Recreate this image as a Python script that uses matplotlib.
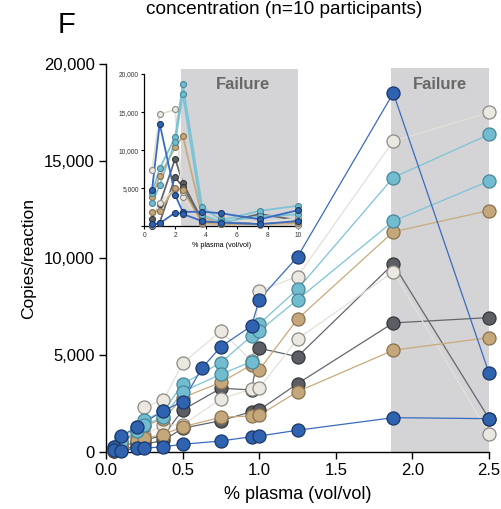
import matplotlib.pyplot as plt
from matplotlib.ticker import FuncFormatter
from matplotlib.patches import Rectangle

plt.rcParams['font.family'] = ['Liberation Sans', 'DejaVu Sans']

# main panel: % plasma 0-2.5
x_std = [0.05, 0.1, 0.2, 0.25, 0.375, 0.5, 0.75, 0.95, 1.0, 1.25, 1.875, 2.5]
x_db_hi = [0.05, 0.1, 0.2, 0.375, 0.5, 0.625, 0.75, 0.95, 1.0, 1.25, 1.875, 2.5]

y_db_hi = [273, 841, 1274, 2131, 2596, 4319, 5434, 6502, 7859, 10062, 18509, 4061]
y_db_lo = [100, 60, 191, 191, 273, 397, 568, 790, 826, 1120, 1770, 1718]
y_lb_hi = [250, 700, 1300, 1651, 2100, 3509, 4608, 5986, 6605, 8395, 14154, 16373]
y_lb_lo = [180, 500, 1100, 1400, 1800, 3111, 4009, 4660, 6244, 7859, 11904, 13968]
y_tn_hi = [150, 400, 1047, 1342, 1703, 2800, 3596, 4489, 4231, 6863, 11352, 12451]
y_tn_lo = [80, 250, 600, 700, 900, 1300, 1790, 1858, 1900, 3111, 5248, 5898]
y_dg_hi = [50, 273, 531, 619, 841, 2167, 3287, 3200, 5350, 4917, 9701, 1718]
y_dg_lo = [30, 120, 300, 400, 600, 1223, 1615, 2080, 2167, 3524, 6656, 6930]
y_ow_hi = [200, 500, 1100, 2337, 2668, 4577, 6244, 4700, 8308, 9045, 16032, 17508]
y_ow_lo = [100, 300, 790, 900, 1393, 1393, 2735, 3251, 3300, 5831, 9288, 944]

# inset: % plasma 0-10
x_in = [0.5, 1, 2, 2.5, 3.75, 5, 7.5, 10]
db_hi_in = [4780, 13470, 4120, 1900, 1930, 1720, 930, 2140]
db_lo_in = [300, 400, 1800, 1630, 700, 500, 300, 700]
lb_hi_in = [4400, 7620, 11690, 18720, 2590, 800, 2050, 2710]
lb_lo_in = [3030, 5430, 11110, 17320, 1500, 600, 1300, 1580]
tn_hi_in = [3800, 6610, 10370, 11850, 1270, 300, 300, 600]
tn_lo_in = [1930, 2060, 5080, 4780, 400, 300, 300, 400]
dg_hi_in = [930, 2900, 8880, 5730, 800, 500, 1620, 800]
dg_lo_in = [100, 500, 6440, 5200, 500, 400, 400, 300]
ow_hi_in = [7400, 14700, 15360, 3900, 600, 1100, 500, 1050]
ow_lo_in = [200, 3110, 4900, 4500, 300, 300, 200, 200]

# colours: (line, fill, edge)
c_dg = ('#63676b', '#5b5f63', '#35383b')
c_ow = ('#e4e0d9', '#ebe7e1', '#8e8b86')
c_tn = ('#c8aa7c', '#c4a77a', '#8a7250')
c_lb = ('#7cc3d6', '#72bcd0', '#47879a')
c_db = ('#3a6bc0', '#2f63b0', '#1a3768')

main_series = [
    (x_std, y_dg_hi, c_dg), (x_std, y_dg_lo, c_dg),
    (x_std, y_ow_hi, c_ow), (x_std, y_ow_lo, c_ow),
    (x_std, y_tn_hi, c_tn), (x_std, y_tn_lo, c_tn),
    (x_std, y_lb_hi, c_lb), (x_std, y_lb_lo, c_lb),
    (x_db_hi, y_db_hi, c_db), (x_std, y_db_lo, c_db),
]
inset_series = [
    (dg_hi_in, c_dg), (dg_lo_in, c_dg), (ow_hi_in, c_ow), (ow_lo_in, c_ow),
    (tn_hi_in, c_tn), (tn_lo_in, c_tn), (lb_hi_in, c_lb), (lb_lo_in, c_lb),
    (db_hi_in, c_db), (db_lo_in, c_db),
]

fail_grey = '#d4d4d6'
fail_text = '#686868'
thousands = FuncFormatter(lambda v, p: '{:,.0f}'.format(v))

fig = plt.figure(figsize=(5.02, 5.09), dpi=100)
ax = fig.add_axes([0.2112, 0.112, 0.763, 0.762])

ax.add_patch(Rectangle((1.86, 0), 2.5 - 1.86, 19800, color=fail_grey, lw=0, zorder=0))
ax.text(2.18, 18950, 'Failure', ha='center', va='center', fontsize=12,
        fontweight='bold', color=fail_text)

for xs, ys, c in main_series:
    ax.plot(xs, ys, '-', color=c[0], lw=0.9, zorder=2, clip_on=False)
    ax.plot(xs, ys, 'o', ms=9.4, mfc=c[1], mec=c[2], mew=0.9, zorder=3, clip_on=False)

ax.set_xlim(0, 2.5)
ax.set_ylim(0, 20000)
ax.set_xticks([0, 0.5, 1.0, 1.5, 2.0, 2.5])
ax.set_yticks([0, 5000, 10000, 15000, 20000])
ax.yaxis.set_major_formatter(thousands)
ax.xaxis.set_major_formatter(FuncFormatter(lambda v, p: '{:.1f}'.format(v)))
ax.spines['top'].set_visible(False)
ax.spines['right'].set_visible(False)
ax.spines['left'].set_linewidth(1)
ax.spines['bottom'].set_linewidth(1)
ax.tick_params(axis='both', labelsize=12, length=5, width=1, direction='out', pad=3)
ax.set_xlabel('% plasma (vol/vol)', fontsize=13, labelpad=6)
ax.set_ylabel('Copies/reaction', fontsize=12.5, labelpad=6)

# inset
axi = fig.add_axes([0.2875, 0.5552, 0.3068, 0.2994])
axi.patch.set_alpha(0)
axi.add_patch(Rectangle((2.35, 0), 10 - 2.35, 20600, color=fail_grey, lw=0,
                        zorder=0, clip_on=False))
axi.text(6.4, 18600, 'Failure', ha='center', va='center', fontsize=12,
         fontweight='bold', color=fail_text)
for ys, c in inset_series:
    axi.plot(x_in, ys, '-', color=c[0], lw=1.3, zorder=2, clip_on=False)
    axi.plot(x_in, ys, 'o', ms=4.3, mfc=c[1], mec=c[2], mew=0.8, zorder=3, clip_on=False)
axi.set_xlim(0, 10)
axi.set_ylim(0, 20000)
axi.set_xticks([0, 2, 4, 6, 8, 10])
axi.set_yticks([0, 5000, 10000, 15000, 20000])
axi.set_yticklabels(['', '5,000', '10,000', '15,000', '20,000'])
axi.spines['top'].set_visible(False)
axi.spines['right'].set_visible(False)
axi.spines['left'].set_linewidth(0.9)
axi.spines['bottom'].set_linewidth(0.9)
axi.tick_params(axis='both', labelsize=4.8, length=2.5, width=0.8, pad=1.5,
                labelcolor='#333333')
axi.set_xlabel('% plasma (vol/vol)', fontsize=5.2, labelpad=2)

fig.text(58 / 502, 1 - 33.3 / 509, 'F', fontsize=21, ha='left', va='baseline')
fig.text(284 / 502, 1 - 14.5 / 509, 'concentration (n=10 participants)',
         fontsize=13.7, ha='center', va='baseline')

plt.savefig('out.png', dpi=100)
